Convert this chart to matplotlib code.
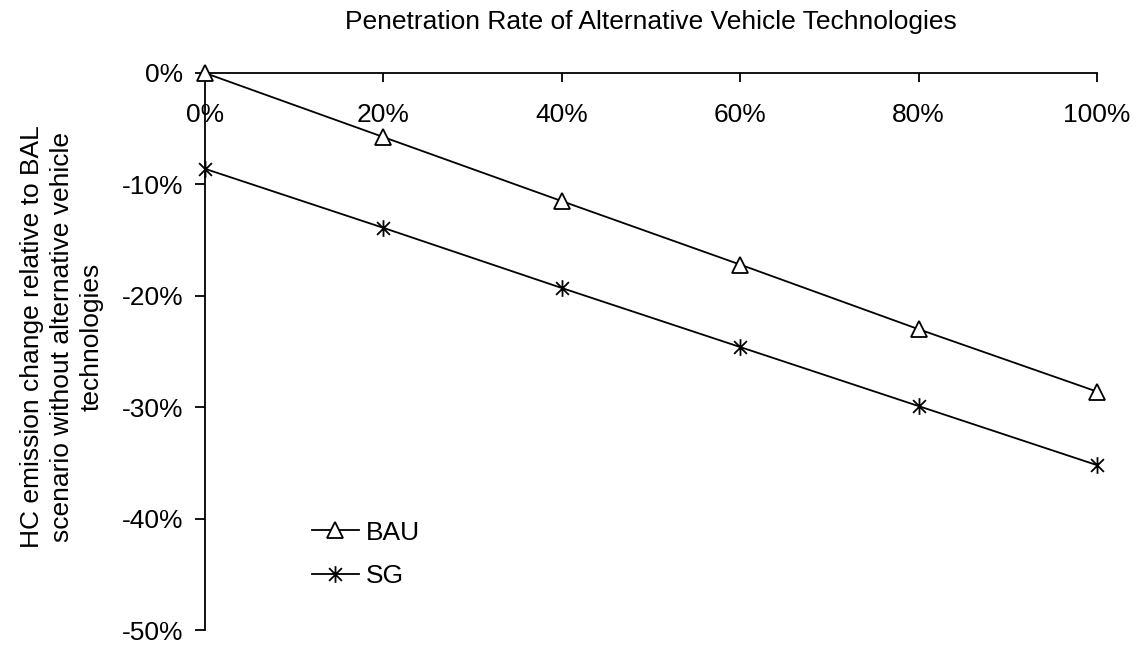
import matplotlib
matplotlib.use("Agg")
import matplotlib.pyplot as plt
from matplotlib.path import Path
from matplotlib.ticker import FuncFormatter

plt.rcParams['font.family'] = ['Liberation Sans', 'DejaVu Sans']

penetration = [0, 20, 40, 60, 80, 100]
bau = [0.0, -5.75, -11.5, -17.2, -23.0, -28.6]
sg = [-8.6, -13.9, -19.3, -24.6, -29.9, -35.2]
series_names = ["BAU", "SG"]
title = "Penetration Rate of Alternative Vehicle Technologies"
ylabel = "HC emission change relative to BAL\nscenario without alternative vehicle\ntechnologies"

star = Path([(-1, -1), (1, 1), (-1, 1), (1, -1), (0, -1.3), (0, 1.3)],
            [Path.MOVETO, Path.LINETO, Path.MOVETO, Path.LINETO, Path.MOVETO, Path.LINETO])

fig = plt.figure(figsize=(11.4, 6.46), dpi=100)
ax = fig.add_axes([205/1140, 1 - 630/646, (1097-205)/1140, (630-73)/646])

fs = 19
ax.plot(penetration, bau, color='black', lw=1.3, marker='^', ms=11,
        mfc='white', mec='black', mew=1.3, label=series_names[0], clip_on=False, zorder=3)
ax.plot(penetration, sg, color='black', lw=1.3, marker=star, ms=12,
        mfc='none', mec='black', mew=1.3, label=series_names[1], clip_on=False, zorder=3)

ax.set_xlim(0, 100)
ax.set_ylim(-50, 0)
ax.set_xticks(penetration)
ax.set_yticks([0, -10, -20, -30, -40, -50])
ax.xaxis.set_major_formatter(FuncFormatter(lambda v, p: f"{int(round(v))}%"))
ax.yaxis.set_major_formatter(FuncFormatter(lambda v, p: f"{int(round(v))}%"))

ax.spines['right'].set_visible(False)
ax.spines['top'].set_visible(False)
ax.spines['bottom'].set_position(('data', 0))
for s in ('left', 'bottom'):
    ax.spines[s].set_linewidth(1.3)
ax.tick_params(axis='both', direction='out', width=1.3, labelsize=fs)
ax.tick_params(axis='x', length=6.5, pad=15)
ax.tick_params(axis='y', length=7, pad=8.5)

ax.set_title(title, fontsize=fs, pad=32)
fig.text(62/1140, 1 - 337/646, ylabel, fontsize=fs, rotation=90,
         ha='center', va='center', multialignment='center', linespacing=1.3)

ax.legend(loc='upper left', bbox_to_anchor=(0.093, 0.239), frameon=False,
          fontsize=fs, handlelength=1.8, handletextpad=0.27, labelspacing=0.75)

fig.savefig("out.png", dpi=100)
